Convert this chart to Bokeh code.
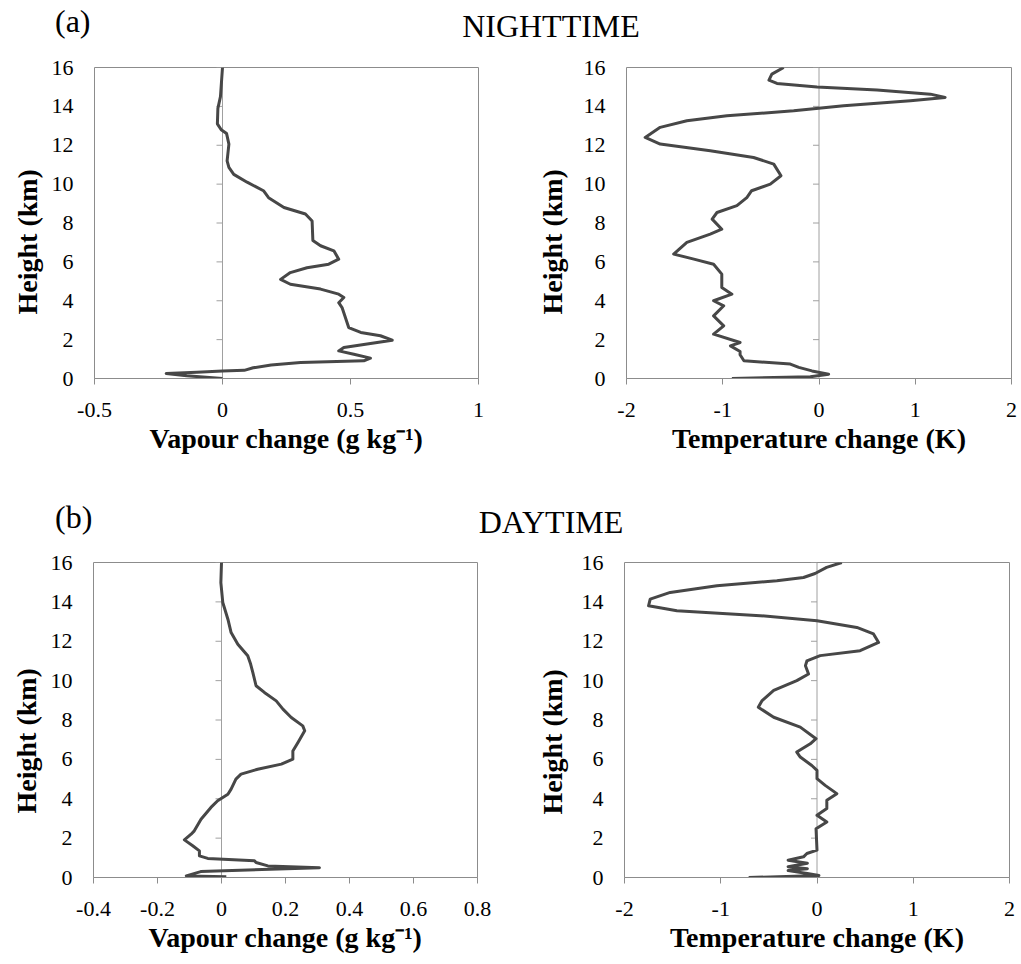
from math import pi
from bokeh.plotting import figure
from bokeh.models import Range1d, FixedTicker, Span, NumeralTickFormatter, Div, Title
from bokeh.layouts import column, row
from bokeh.embed import file_html
from bokeh.resources import INLINE

# ---------------- data ----------------
height_ticks = [0, 2, 4, 6, 8, 10, 12, 14, 16]

# (a) NIGHTTIME - vapour change (g/kg) vs height (km)
night_vap_h = [16, 14.5, 13.9, 13.1, 12.8, 12.6, 12.06, 11.2, 10.86, 10.5, 10.1, 9.66, 9.3, 8.8,
               8.46, 8.1, 7.1, 6.83, 6.57, 6.14, 5.88, 5.7, 5.45, 5.1, 4.85, 4.6, 4.34, 4.17, 3.9,
               3.65, 3.14, 2.62, 2.37, 2.2, 1.97, 1.77, 1.6, 1.42, 1.25, 1.05, 0.91, 0.82, 0.69,
               0.55, 0.42, 0.38, 0.32, 0.26, 0.14, 0.0]
night_vap_v = [0.0, -0.008, -0.018, -0.02, -0.005, 0.016, 0.025, 0.018, 0.025, 0.044, 0.096, 0.16,
               0.18, 0.24, 0.324, 0.35, 0.353, 0.383, 0.435, 0.454, 0.415, 0.33, 0.265, 0.227, 0.265,
               0.383, 0.454, 0.474, 0.454, 0.467, 0.48, 0.493, 0.54, 0.617, 0.663, 0.565, 0.474,
               0.454, 0.513, 0.578, 0.552, 0.305, 0.19, 0.12, 0.085, 0.0, -0.1, -0.22, -0.14, 0.0]

# (a) NIGHTTIME - temperature change (K)
night_tmp_h = [16, 15.66, 15.35, 15.18, 15.0, 14.84, 14.63, 14.46, 14.29, 14.03, 13.77, 13.52, 13.26,
               12.92, 12.4, 12.06, 11.72, 11.37, 11.03, 10.43, 10.0, 9.66, 9.31, 8.89, 8.54, 8.2,
               7.68, 7.43, 7.0, 6.4, 6.14, 5.88, 5.37, 4.68, 4.34, 4.0, 3.74, 3.22, 2.71, 2.28,
               1.85, 1.68, 1.39, 1.22, 0.91, 0.74, 0.57, 0.39, 0.22, 0.09, 0.0]
night_tmp_v = [-0.367, -0.49, -0.52, -0.437, -0.02, 0.603, 1.158, 1.31, 0.95, 0.256, -0.263, -0.957,
               -1.373, -1.65, -1.806, -1.65, -1.13, -0.68, -0.47, -0.395, -0.506, -0.70, -0.75,
               -0.853, -1.06, -1.11, -1.01, -1.13, -1.373, -1.51, -1.30, -1.095, -1.01, -1.01,
               -0.905, -1.095, -0.99, -1.095, -0.99, -1.095, -0.82, -0.92, -0.82, -0.82, -0.78,
               -0.298, -0.21, -0.073, 0.10, -0.09, -0.905]

# (b) DAYTIME - vapour change (g/kg)
day_vap_h = [16, 14.98, 13.97, 13.12, 12.44, 11.85, 11.26, 10.84, 10.41, 9.74, 9.4, 8.97, 8.55, 8.13,
             7.7, 7.45, 6.86, 6.43, 6.01, 5.76, 5.5, 5.25, 5.0, 4.49, 4.23, 3.9, 3.56, 2.96, 2.37,
             2.2, 1.91, 1.61, 1.35, 1.1, 0.97, 0.85, 0.76, 0.59, 0.5, 0.3, 0.08, 0.04]
day_vap_v = [0.0, -0.002, 0.004, 0.02, 0.03, 0.051, 0.082, 0.091, 0.098, 0.108, 0.134, 0.171, 0.192,
             0.218, 0.254, 0.26, 0.239, 0.223, 0.223, 0.187, 0.113, 0.061, 0.045, 0.03, 0.02,
             -0.012, -0.033, -0.064, -0.085, -0.095, -0.116, -0.09, -0.069, -0.069, -0.043, 0.103,
             0.108, 0.145, 0.306, -0.065, -0.11, 0.015]

# (b) DAYTIME - temperature change (K)
day_tmp_h = [16, 15.75, 15.44, 15.24, 15.07, 14.82, 14.48, 14.14, 13.8, 13.55, 13.3, 13.04, 12.7,
             12.37, 11.94, 11.52, 11.27, 11.0, 10.76, 10.34, 10.0, 9.5, 8.99, 8.65, 8.14, 7.64,
             7.05, 6.79, 6.37, 6.12, 5.69, 5.44, 5.02, 4.68, 4.26, 3.92, 3.5, 3.16, 2.82, 2.48,
             1.39, 1.22, 1.05, 0.88, 0.72, 0.55, 0.45, 0.35, 0.2, 0.1, 0.0]
day_tmp_v = [0.258, 0.10, -0.02, -0.14, -0.417, -1.04, -1.525, -1.733, -1.75, -1.456, -0.59, 0.0,
             0.414, 0.587, 0.64, 0.448, 0.033, -0.105, -0.12, -0.088, -0.21, -0.45, -0.57, -0.61,
             -0.45, -0.174, -0.01, -0.07, -0.21, -0.174, -0.054, 0.0, 0.0, 0.085, 0.206, 0.102,
             0.102, 0.0, 0.102, -0.01, 0.0, -0.105, -0.14, -0.3, -0.1, -0.3, -0.1, -0.3, -0.1,
             0.02, -0.71]

vap_night_ticks = [-0.5, 0, 0.5, 1]
vap_night_labels = ["-0.5", "0", "0.5", "1"]
vap_day_ticks = [-0.4, -0.2, 0, 0.2, 0.4, 0.6, 0.8]
vap_day_labels = ["-0.4", "-0.2", "0", "0.2", "0.4", "0.6", "0.8"]
tmp_ticks = [-2, -1, 0, 1, 2]
tmp_labels = ["-2", "-1", "0", "1", "2"]

# ---------------- styling ----------------
AXIS_GREY = "#8c8c8c"
ZERO_GREY = "#a0a0a0"
LINE = "#474747"
SERIF = "Liberation Serif"


def title_div(h, items):
    spans = []
    for txt, x, top, centered in items:
        tr = "transform:translateX(-50%);" if centered else ""
        spans.append(
            f'<span style="position:absolute;left:{x}px;top:{top}px;{tr}'
            f'white-space:nowrap;line-height:1;">{txt}</span>')
    html = (f'<div style="position:relative;width:1021px;height:{h}px;margin:0;padding:0;'
            f'font-family:\'{SERIF}\';font-size:32px;color:black;">' + "".join(spans) + "</div>")
    return Div(text=html, width=1021, height=h, margin=0)


def panel(xv, hv, xr, xt, xl, xlabel, mbl, fw, mbr, mbt, fh, mbb, yl_offset, yl_standoff):
    p = figure(frame_width=fw, frame_height=fh, x_range=Range1d(*xr), y_range=Range1d(0, 16),
               toolbar_location=None, output_backend="svg",
               min_border_left=mbl, min_border_right=mbr, min_border_top=mbt,
               min_border_bottom=mbb, outline_line_color=AXIS_GREY, outline_line_width=1)
    p.xgrid.grid_line_color = None
    p.ygrid.grid_line_color = None

    # x axis
    ax = p.xaxis[0]
    ax.ticker = FixedTicker(ticks=xt)
    ax.formatter = NumeralTickFormatter(format="0.[0]")
    ax.major_label_overrides = {t: l for t, l in zip(xt, xl)}
    ax.major_tick_out = 6
    ax.major_tick_in = 0
    ax.minor_tick_out = 0
    ax.minor_tick_in = 0
    ax.axis_line_color = AXIS_GREY
    ax.major_tick_line_color = AXIS_GREY
    ax.major_label_text_font = SERIF
    ax.major_label_text_font_size = "22px"
    ax.major_label_text_color = "black"
    ax.major_label_standoff = 18
    ax.axis_label = xlabel
    ax.axis_label_text_font = SERIF
    ax.axis_label_text_font_style = "bold"
    ax.axis_label_text_font_size = "28px"
    ax.axis_label_text_color = "black"
    ax.axis_label_standoff = 3

    # y axis: labels at frame left, axis line with ticks at x = 0
    ay = p.yaxis[0]
    ay.ticker = FixedTicker(ticks=height_ticks)
    ay.major_tick_out = 0
    ay.major_tick_in = 0
    ay.minor_tick_out = 0
    ay.minor_tick_in = 0
    ay.axis_line_color = None
    ay.major_label_text_font = SERIF
    ay.major_label_text_font_size = "22px"
    ay.major_label_text_color = "black"
    ay.major_label_standoff = 21

    # y-axis title, placed a little below the frame centre as in the reference
    p.add_layout(Title(text="Height (km)", align="left", offset=yl_offset,
                       standoff=yl_standoff, text_font=SERIF, text_font_style="bold",
                       text_font_size="28px", text_color="black"), "left")

    p.add_layout(Span(location=0, dimension="height", line_color=ZERO_GREY, line_width=1,
                      level="underlay"))
    p.ray(x=[0] * len(height_ticks), y=height_ticks, length=6, length_units="screen",
          angle=pi, line_color=ZERO_GREY, line_width=1)

    p.line(xv, hv, line_color=LINE, line_width=3, line_join="round")
    return p


# row 1 : page y 50..468 ; row 2 : page y 545..963
t1 = title_div(50, [("(a)", 55, 5, False), ("NIGHTTIME", 551, 10, True)])
f1 = panel(night_vap_v, night_vap_h, (-0.5, 1), vap_night_ticks, vap_night_labels,
           "Vapour change (g kg\u207b\u00b9)", 94, 384, 32, 17, 311, 90, 64, 12)
f2 = panel(night_tmp_v, night_tmp_h, (-2, 2), tmp_ticks, tmp_labels,
           "Temperature change (K)", 116, 385, 10, 17, 311, 90, 64, 26)

t2 = title_div(77, [("(b)", 55, 33, False), ("DAYTIME", 551, 38, True)])
f3 = panel(day_vap_v, day_vap_h, (-0.4, 0.8), vap_day_ticks, vap_day_labels,
           "Vapour change (g kg\u207b\u00b9)", 93, 384, 33, 17, 315, 86, 64, 12)
f4 = panel(day_tmp_v, day_tmp_h, (-2, 2), tmp_ticks, tmp_labels,
           "Temperature change (K)", 114, 385, 12, 17, 315, 86, 63, 22)

layout = column(t1, row(f1, f2), t2, row(f3, f4))
open("out.html", "w").write(file_html(layout, INLINE))
